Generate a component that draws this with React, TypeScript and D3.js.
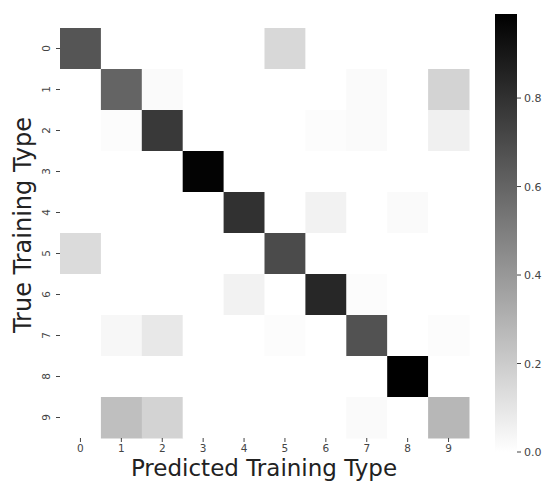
import React from 'react';
import * as d3 from 'd3';

const classes = ['0', '1', '2', '3', '4', '5', '6', '7', '8', '9'];

// confusion matrix rows (true type), columns = predicted type
const row0 = [0.66, 0, 0, 0, 0, 0.15, 0, 0, 0, 0];
const row1 = [0, 0.6, 0.02, 0, 0, 0, 0, 0.02, 0, 0.17];
const row2 = [0, 0.01, 0.77, 0, 0, 0, 0.01, 0.02, 0, 0.06];
const row3 = [0, 0, 0, 0.98, 0, 0, 0, 0, 0, 0];
const row4 = [0, 0, 0, 0, 0.8, 0, 0.05, 0, 0.02, 0];
const row5 = [0.14, 0, 0, 0, 0, 0.7, 0, 0, 0, 0];
const row6 = [0, 0, 0, 0, 0.05, 0, 0.84, 0.01, 0, 0];
const row7 = [0, 0.03, 0.09, 0, 0, 0.01, 0, 0.67, 0, 0.01];
const row8 = [0, 0, 0, 0, 0, 0, 0, 0, 0.99, 0];
const row9 = [0, 0.25, 0.17, 0, 0, 0, 0, 0.02, 0, 0.28];
const rows = [row0, row1, row2, row3, row4, row5, row6, row7, row8, row9];

const colorbarTicks = [0, 0.2, 0.4, 0.6, 0.8];

const App: React.FC = () => {
  const width = 544;
  const height = 481;
  const font = '"DejaVu Sans", sans-serif';

  const vmax = d3.max(rows, r => d3.max(r) as number) as number;

  const x = d3.scaleBand<string>().domain(classes).range([60, 469]);
  const y = d3.scaleBand<string>().domain(classes).range([28, 438]);
  const color = d3.scaleLinear<string>().domain([0, vmax]).range(['#ffffff', '#000000']).clamp(true);

  // colorbar
  const cbX = 495;
  const cbW = 22;
  const cbScale = d3.scaleLinear().domain([0, vmax]).range([452, 14]);

  const cells = rows.flatMap((r, i) => r.map((v, j) => ({ i, j, v })));

  return (
    <svg width={width} height={height} style={{ position: 'absolute', left: 0, top: 0, background: '#fff' }}>
      <defs>
        <linearGradient id="cbGrad" x1="0" y1="1" x2="0" y2="0">
          <stop offset="0%" stopColor="#ffffff" />
          <stop offset="100%" stopColor="#000000" />
        </linearGradient>
      </defs>

      {cells.map(c => (
        <rect
          key={`${c.i}-${c.j}`}
          x={x(classes[c.j])}
          y={y(classes[c.i])}
          width={x.bandwidth() + 0.5}
          height={y.bandwidth() + 0.5}
          fill={color(c.v)}
        />
      ))}

      {/* x axis ticks */}
      {classes.map(c => {
        const cx = (x(c) as number) + x.bandwidth() / 2;
        return (
          <g key={'xt' + c}>
            <line x1={cx} x2={cx} y1={438} y2={442} stroke="#444" strokeWidth={1} />
            <text x={cx} y={451.5} textAnchor="middle" fontFamily={font} fontSize={10.5} fill="#444">{c}</text>
          </g>
        );
      })}

      {/* y axis ticks */}
      {classes.map(c => {
        const cy = (y(c) as number) + y.bandwidth() / 2;
        return (
          <g key={'yt' + c}>
            <line x1={56} x2={60} y1={cy} y2={cy} stroke="#444" strokeWidth={1} />
            <text
              transform={`translate(50, ${cy}) rotate(-90)`}
              textAnchor="middle"
              fontFamily={font}
              fontSize={10.5}
              fill="#444"
            >
              {c}
            </text>
          </g>
        );
      })}

      <text x={264} y={475.5} textAnchor="middle" fontFamily={font} fontSize={23} fill="#222">
        Predicted Training Type
      </text>
      <text
        transform={`translate(31, 225) rotate(-90)`}
        textAnchor="middle"
        fontFamily={font}
        fontSize={24}
        fill="#222"
      >
        True Training Type
      </text>

      {/* colorbar */}
      <rect x={cbX} y={cbScale(vmax)} width={cbW} height={cbScale(0) - cbScale(vmax)} fill="url(#cbGrad)" />
      {colorbarTicks.map(t => (
        <g key={'cb' + t}>
          <line x1={cbX + cbW} x2={cbX + cbW + 4} y1={cbScale(t)} y2={cbScale(t)} stroke="#444" strokeWidth={1} />
          <text x={cbX + cbW + 7} y={cbScale(t) + 4} fontFamily={font} fontSize={11} fill="#444">
            {d3.format('.1f')(t)}
          </text>
        </g>
      ))}
    </svg>
  );
};

export default App;
